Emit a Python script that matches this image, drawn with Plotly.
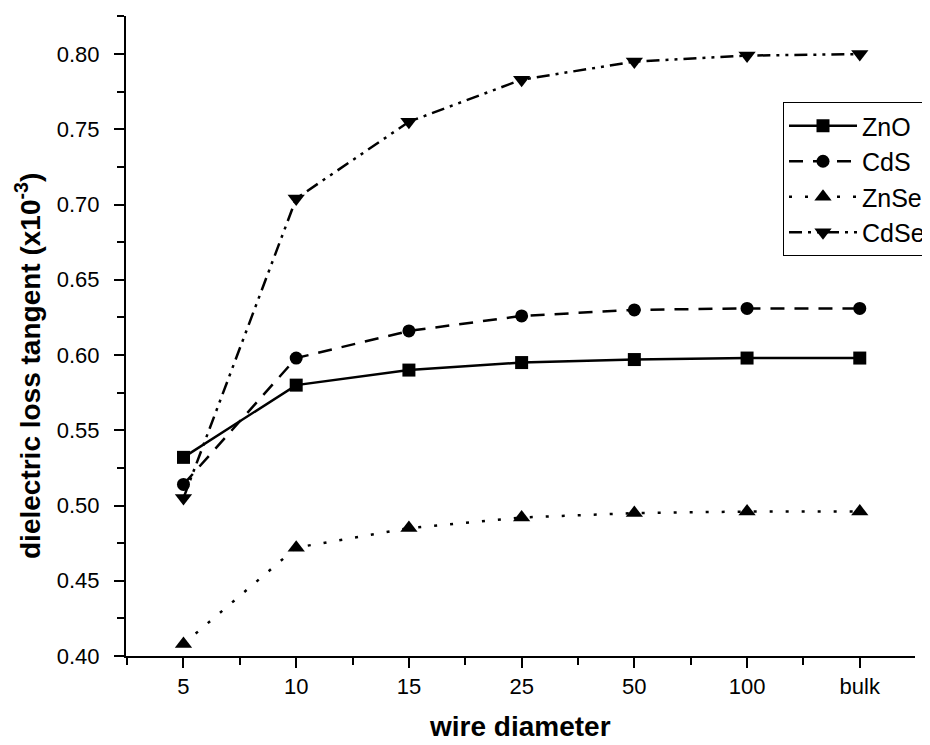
import plotly.graph_objects as go

categories = ["5", "10", "15", "25", "50", "100", "bulk"]
zno = [0.532, 0.580, 0.590, 0.595, 0.597, 0.598, 0.598]
cds = [0.514, 0.598, 0.616, 0.626, 0.630, 0.631, 0.631]
znse = [0.408, 0.472, 0.485, 0.492, 0.495, 0.496, 0.496]
cdse = [0.505, 0.704, 0.755, 0.783, 0.795, 0.799, 0.800]
y_ticks = [0.40, 0.45, 0.50, 0.55, 0.60, 0.65, 0.70, 0.75, 0.80]

xpos = list(range(len(categories)))

series = [
    ("ZnO", zno, "square", "solid", 13),
    ("CdS", cds, "circle", "14px,10px", 13),
    ("ZnSe", znse, "triangle-up", "3px,13px", 15),
    ("CdSe", cdse, "triangle-down", "13px,6px,3px,6px,3px,6px", 15),
]

fig = go.Figure()
for name, vals, sym, dash, ms in series:
    fig.add_trace(go.Scatter(
        x=xpos, y=vals, name=name, mode="lines+markers",
        line=dict(color="black", width=2.5, dash=dash),
        marker=dict(symbol=sym, size=ms, color="black", line=dict(width=0)),
    ))

font_family = "Liberation Sans, Arial, sans-serif"
OFF = 8  # page body margin
W, H = 922, 737
L, T = 118, 8
plot_w, plot_h = 789, 640
R = W - L - plot_w
B = H - T - plot_h


def px(xs):
    return (xs - OFF - L) / plot_w


def py(ys):
    return 1 - (ys - OFF - T) / plot_h


fig.update_layout(
    width=W, height=H,
    margin=dict(l=L, r=R, t=T, b=B, autoexpand=False),
    paper_bgcolor="white", plot_bgcolor="white",
    font=dict(family=font_family, color="black", size=22),
    showlegend=True,
    legend=dict(
        x=px(783), y=py(102),
        xanchor="left", yanchor="top",
        bordercolor="black", borderwidth=1, bgcolor="white",
        font=dict(size=25, family=font_family),
        tracegroupgap=0, itemwidth=68,
    ),
    xaxis=dict(
        range=[-0.51, 6.49],
        tickmode="array", tickvals=xpos, ticktext=categories,
        showline=True, linecolor="black", linewidth=2,
        ticks="outside", ticklen=10, tickwidth=2, tickcolor="black",
        minor=dict(ticks="outside", ticklen=7, tickwidth=2, tickcolor="black",
                   tickmode="array", tickvals=[i + 0.5 for i in range(-1, len(categories))]),
        showgrid=False, zeroline=False, automargin=False,
        tickfont=dict(size=22),
    ),
    yaxis=dict(
        range=[0.40, 0.8253],
        tickmode="array", tickvals=y_ticks, tickformat=".2f",
        showline=True, linecolor="black", linewidth=2,
        ticks="outside", ticklen=10, tickwidth=2, tickcolor="black",
        minor=dict(ticks="outside", ticklen=7, tickwidth=2, tickcolor="black",
                   dtick=0.025, tick0=0.40),
        showgrid=False, zeroline=False, automargin=False,
        tickfont=dict(size=22),
        ticklabelstandoff=10,
    ),
    annotations=[
        dict(text="<b>wire diameter</b>", xref="paper", yref="paper",
             x=px(520), y=py(726),
             xanchor="center", yanchor="middle", showarrow=False,
             font=dict(size=28, family=font_family)),
        dict(text="<b>dielectric loss tangent (x10<sup>-3</sup>)</b>", xref="paper", yref="paper",
             x=px(28), y=py(366),
             xanchor="center", yanchor="middle", textangle=-90, showarrow=False,
             font=dict(size=28, family=font_family)),
    ],
)

fig.write_html("out.html")
